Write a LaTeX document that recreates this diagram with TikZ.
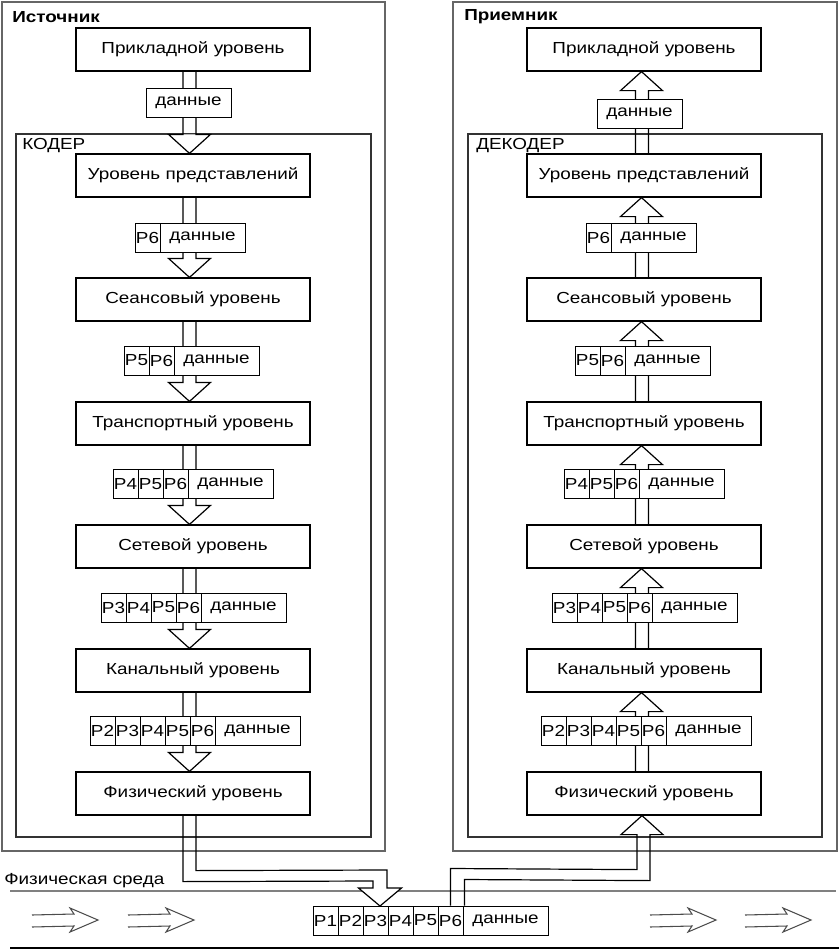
\documentclass[tikz,border=0pt]{standalone}
\usepackage{fontspec}
\setmainfont[FakeStretch=1.18]{Liberation Sans}
\usetikzlibrary{calc}
\tikzset{
  txt/.style={font=\fontsize{12}{14}\selectfont},
  lvl/.style={txt, draw, line width=0.9pt, fill=white, minimum width=234*0.75pt, minimum height=43*0.75pt, inner sep=0pt},
  cell/.style={txt, draw, line width=0.75pt, fill=white, minimum width=25*0.75pt, minimum height=29*0.75pt, inner sep=0pt},
  dcell/.style={cell, minimum width=85*0.75pt},
  frame/.style={draw=black!60, line width=1.4pt},
  inframe/.style={draw=black!80, line width=0.9pt},
  arr/.style={draw, line width=0.9pt, line join=miter},
  lbl/.style={txt, inner sep=0pt, anchor=west},
}
\newcommand\pkt[5]{%
  \foreach \h [count=\i] in {#5} {
    \node[cell] (#1\i) at ({#2+25*\i-12.5}, #3) {P\h};
  }
  \node[dcell] (#1d) at ({#2+25*#4+42.5}, #3) {данные};
}
\newcommand\arrdown[2]{%
  \fill[white] ($(#2.north)+(-24.5,-19)$) -- ($(#2.north)+(-3.5,0)$) -- ($(#2.north)+(17.5,-19)$) -- cycle;
  \draw[arr] ($(#1.south)+(-10,0)$) -- ($(#2.north)+(-10,-19)$) -- ($(#2.north)+(-24.5,-19)$) -- ($(#2.north)+(-3.5,0)$) -- ($(#2.north)+(17.5,-19)$) -- ($(#2.north)+(3,-19)$) -- ($(#1.south)+(3,0)$);
}
\newcommand\arrup[2]{%
  \fill[white] ($(#2.south)+(-23.5,19)$) -- ($(#2.south)+(-2.5,0)$) -- ($(#2.south)+(18.5,19)$) -- cycle;
  \draw[arr] ($(#1.north)+(-8.5,0)$) -- ($(#2.south)+(-8.5,19)$) -- ($(#2.south)+(-23.5,19)$) -- ($(#2.south)+(-2.5,0)$) -- ($(#2.south)+(18.5,19)$) -- ($(#2.south)+(4.5,19)$) -- ($(#1.north)+(4.5,0)$);
}
\newcommand\flowarr[1]{%
  \draw[black!70, line width=0.8pt, line join=miter] (#1,915) -- ({#1+42},914) -- ({#1+38},908) -- ({#1+66},920) -- ({#1+38},932) -- ({#1+42},926) -- (#1,927);
}
\begin{document}
\begin{tikzpicture}[x=0.75pt, y=-0.75pt]
\useasboundingbox (0,0) rectangle (839,950);
% frames
\draw[frame] (2,2) rectangle (385,851);
\draw[frame] (453,2) rectangle (837,851);
\draw[inframe] (16,134) rectangle (371,837);
\draw[inframe] (468,134) rectangle (822,837);
% medium lines
\draw[black!50, line width=1pt] (10,891) -- (836,891);
\draw[black, line width=2pt] (10,948) -- (839,948);
% level boxes
\foreach \n/\y/\t in {1/49.5/Прикладной уровень, 2/175.5/Уровень представлений, 3/299.5/Сеансовый уровень, 4/423.5/Транспортный уровень, 5/546.5/Сетевой уровень, 6/670.5/Канальный уровень, 7/793.5/Физический уровень} {
  \node[lvl] (L\n) at (193,\y) {\t};
  \node[lvl] (R\n) at (644,\y) {\t};
}
% arrows
\arrdown{L1}{L2}
\arrdown{L2}{L3}
\arrdown{L3}{L4}
\arrdown{L4}{L5}
\arrdown{L5}{L6}
\arrdown{L6}{L7}
\arrup{R2}{R1}
\arrup{R3}{R2}
\arrup{R4}{R3}
\arrup{R5}{R4}
\arrup{R6}{R5}
\arrup{R7}{R6}
% bottom packet
\pkt{B}{313}{920.5}{6}{1,2,3,4,5,6}
% bottom connectors
\fill[white] (358.5,888) -- (380,906) -- (401.5,888) -- cycle;
\draw[arr] ($(L7.south)+(-10,0)$) -- ($(L7.south)+(-10,66)$) -- (373,881) -- (373,888) -- (358.5,888) -- (380,906) -- (401.5,888) -- (387,888) -- (387,870) -- ($(L7.south)+(3,55)$) -- ($(L7.south)+(3,0)$);
\fill[white] ($(R7.south)+(-23,19)$) -- ($(R7.south)+(-2,0)$) -- ($(R7.south)+(19,19)$) -- cycle;
\draw[arr] (B6.north) -- ($(B6.north)+(0,-37)$) -- ($(R7.south)+(-7,54)$) -- ($(R7.south)+(-7,19)$) -- ($(R7.south)+(-23,19)$) -- ($(R7.south)+(-2,0)$) -- ($(R7.south)+(19,19)$) -- ($(R7.south)+(6,19)$) -- ($(R7.south)+(6,65)$) -- ($(Bd.north west)+(2,-26)$) -- ($(Bd.north west)+(2,0)$);
% left packets
\node[dcell] (LTd) at (188.5,102.5) {данные};
\pkt{LA}{135}{237.5}{1}{6}
\pkt{LB}{124}{360.5}{2}{5,6}
\pkt{LC}{113}{484}{3}{4,5,6}
\pkt{LE}{101}{607.5}{4}{3,4,5,6}
\pkt{LF}{90}{731}{5}{2,3,4,5,6}
% right packets
\node[dcell] (RTd) at (639.5,113.5) {данные};
\pkt{RA}{586}{237.5}{1}{6}
\pkt{RB}{575}{360.5}{2}{5,6}
\pkt{RC}{564}{484}{3}{4,5,6}
\pkt{RE}{552}{607.5}{4}{3,4,5,6}
\pkt{RF}{541}{731}{5}{2,3,4,5,6}
% labels
\node[lbl, font=\fontsize{12}{14}\selectfont\bfseries] (src) at (12,17) {Источник};
\node[lbl, font=\fontsize{12}{14}\selectfont\bfseries] (rcv) at (464,17) {Приемник};
\node[lbl] (kod) at (22,146) {КОДЕР};
\node[lbl] (dek) at (476,146) {ДЕКОДЕР};
\node[lbl] (med) at (4,881) {Физическая среда};
% flow arrows
\flowarr{32}
\flowarr{128}
\flowarr{650}
\flowarr{745}
\end{tikzpicture}
\end{document}
